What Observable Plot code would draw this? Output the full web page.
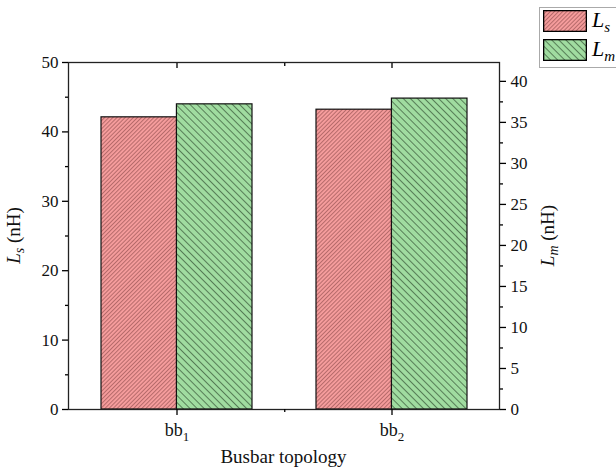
<!DOCTYPE html>
<html>
<head>
<meta charset="utf-8">
<script src="https://cdn.jsdelivr.net/npm/d3@7"></script>
<script src="https://cdn.jsdelivr.net/npm/@observablehq/plot@0.6"></script>
<style>
  html, body { margin: 0; padding: 0; background: #fff; }
  #wrap { position: relative; width: 616px; height: 469px; font-family: "Liberation Serif", "Times New Roman", serif; }
  #wrap svg text { font-family: "Liberation Serif", "Times New Roman", serif; }
  #legend { position: absolute; left: 539px; top: 7px; width: 80px; height: 61px; border: 1px solid #aaa; background: #fff; box-sizing: border-box; }
  .lg-row { position: absolute; left: 3px; height: 22px; }
  .lg-sw { position: absolute; left: 0; top: 0; width: 44px; height: 22px; }
  .lg-tx { position: absolute; left: 49px; top: -3px; font-size: 22px; font-style: italic; white-space: nowrap; }
  .lg-tx sub { font-size: 15px; vertical-align: -5px; line-height: 0; }
</style>
</head>
<body>
<div id="wrap"></div>
<script>
// ---- data ----
const topologies = ["bb1", "bb2"];
const topologyLabels = ["1", "2"];          // subscripts of "bb"
const LsValues = [42.1, 43.2];              // left axis (nH)
const LmValues = [37.2, 37.9];              // right axis (nH)
const leftTicks = [0, 10, 20, 30, 40, 50];
const leftMinor = [5, 15, 25, 35, 45];
const rightTicks = [0, 5, 10, 15, 20, 25, 30, 35, 40];
const rightMinor = [2.5, 7.5, 12.5, 17.5, 22.5, 27.5, 32.5, 37.5];

// ---- layout ----
const W = 616, H = 469, mL = 68, mR = 117, mT = 62, mB = 60;
const leftMax = 50, rightMax = 42.3;
const k = leftMax / rightMax;               // right-axis units -> left-axis units
const step = (W - mL - mR) / 2;
const half = step * 0.7 / 2;
const ff = '"Liberation Serif", "Times New Roman", serif';

const LsData = topologies.map((c, i) => ({cat: c, v: LsValues[i]}));
const LmData = topologies.map((c, i) => ({cat: c, v: LmValues[i]}));

const chart = Plot.plot({
  width: W, height: H,
  marginLeft: mL, marginRight: mR, marginTop: mT, marginBottom: mB,
  style: {fontFamily: ff, fontSize: "17px", color: "#000", background: "#fff", overflow: "visible"},
  x: {domain: topologies, paddingInner: 0.3, paddingOuter: 0.15, axis: null},
  y: {domain: [0, leftMax], axis: null},
  marks: [
    Plot.barY(LsData, {x: "cat", y: "v", fill: "url(#hatchLs)", stroke: "#111", strokeWidth: 1.2, insetRight: half}),
    Plot.barY(LmData, {x: "cat", y: d => d.v * k, fill: "url(#hatchLm)", stroke: "#111", strokeWidth: 1.2, insetLeft: half}),
    Plot.frame({stroke: "#222", strokeWidth: 1.3}),
    Plot.axisY(leftTicks, {anchor: "left", tickSize: 6, tickPadding: 4, label: null, strokeWidth: 1.3}),
    Plot.axisY(leftMinor, {anchor: "left", tickSize: 3, tickFormat: () => "", label: null, strokeWidth: 1.3}),
    Plot.axisY(rightTicks, {anchor: "right", y: d => d * k, tickFormat: d => d, tickSize: 6, tickPadding: 5, label: null, strokeWidth: 1.3}),
    Plot.axisY(rightMinor, {anchor: "right", y: d => d * k, tickSize: 3, tickFormat: () => "", label: null, strokeWidth: 1.3}),
    Plot.axisX({anchor: "bottom", tickSize: 6, tickPadding: 8, label: null, strokeWidth: 1.3}),
    Plot.axisX([topologies[0]], {anchor: "bottom", dx: step / 2, tickSize: 3, tickFormat: () => "", label: null, strokeWidth: 1.3}),
    Plot.axisX({anchor: "top", tickSize: 5, dy: 5, tickFormat: () => "", label: null, strokeWidth: 1.3}),
    Plot.axisX([topologies[0]], {anchor: "top", dx: step / 2, dy: 3, tickSize: 3, tickFormat: () => "", label: null, strokeWidth: 1.3})
  ]
});

const svg = d3.select(chart);
const defs = svg.insert("defs", ":first-child");
const p1 = defs.append("pattern").attr("id", "hatchLs").attr("patternUnits", "userSpaceOnUse")
  .attr("width", 2.9).attr("height", 2.9).attr("patternTransform", "rotate(45)");
p1.append("rect").attr("width", 2.9).attr("height", 2.9).attr("fill", "#F59C9C");
p1.append("line").attr("x1", 0.5).attr("x2", 0.5).attr("y1", 0).attr("y2", 2.9).attr("stroke", "#8a4848").attr("stroke-width", 0.6);
const p2 = defs.append("pattern").attr("id", "hatchLm").attr("patternUnits", "userSpaceOnUse")
  .attr("width", 5).attr("height", 5).attr("patternTransform", "rotate(-45)");
p2.append("rect").attr("width", 5).attr("height", 5).attr("fill", "#A0DCA0");
p2.append("line").attr("x1", 0.5).attr("x2", 0.5).attr("y1", 0).attr("y2", 5).attr("stroke", "#3f5f3f").attr("stroke-width", 0.75);

// tick label fonts
svg.selectAll('[aria-label="y-axis tick label"]').style("font-family", ff).style("font-size", "17px").attr("fill", "#111");
svg.selectAll('[aria-label="y-axis tick label"] text').style("font-family", ff).style("font-size", "17px");
svg.selectAll('[aria-label="x-axis tick label"]').style("font-family", ff).style("font-size", "18px").attr("fill", "#111");
svg.selectAll('[aria-label="x-axis tick label"] text').style("font-family", ff).style("font-size", "18px");

// x tick labels with subscripts
svg.selectAll('[aria-label="x-axis tick label"] text').each(function() {
  const t = d3.select(this);
  const idx = topologies.indexOf(t.text());
  if (idx < 0) return;
  t.text("");
  t.append("tspan").text("bb");
  t.append("tspan").attr("dy", 5).style("font-size", "13px").text(topologyLabels[idx]);
});

// x axis title
svg.append("text").attr("x", mL + (W - mL - mR) / 2).attr("y", 463).attr("text-anchor", "middle")
  .style("font-family", ff).style("font-size", "19px").attr("fill", "#111").text("Busbar topology");
// left axis title
const yl = svg.append("text").attr("transform", `translate(20,${(mT + H - mB) / 2}) rotate(-90)`)
  .attr("text-anchor", "middle").style("font-family", ff).style("font-size", "19px").attr("fill", "#111");
yl.append("tspan").attr("font-style", "italic").text("L");
yl.append("tspan").attr("font-style", "italic").style("font-size", "14px").attr("dy", 4).text("s");
yl.append("tspan").attr("dy", -4).text(" (nH)");
// right axis title
const yr = svg.append("text").attr("transform", `translate(554,${(mT + H - mB) / 2}) rotate(-90)`)
  .attr("text-anchor", "middle").style("font-family", ff).style("font-size", "19px").attr("fill", "#111");
yr.append("tspan").attr("font-style", "italic").text("L");
yr.append("tspan").attr("font-style", "italic").style("font-size", "14px").attr("dy", 4).text("m");
yr.append("tspan").attr("dy", -4).text(" (nH)");

const wrap = document.getElementById("wrap");
wrap.appendChild(chart);

// legend
const legend = document.createElement("div");
legend.id = "legend";
const entries = [["L", "s", "url(#hatchLs)"], ["L", "m", "url(#hatchLm)"]];
entries.forEach(([main, sub, fill], i) => {
  const row = document.createElement("div");
  row.className = "lg-row";
  row.style.top = (2 + i * 29) + "px";
  const sw = document.createElementNS("http://www.w3.org/2000/svg", "svg");
  sw.setAttribute("class", "lg-sw");
  sw.setAttribute("width", 44); sw.setAttribute("height", 22);
  sw.innerHTML = `<rect x="0" y="0" width="44" height="22" fill="${fill}" stroke="#000" stroke-width="2.6"/>`;
  row.appendChild(sw);
  const tx = document.createElement("span");
  tx.className = "lg-tx";
  tx.innerHTML = `${main}<sub>${sub}</sub>`;
  row.appendChild(tx);
  legend.appendChild(row);
});
wrap.appendChild(legend);
</script>
</body>
</html>
